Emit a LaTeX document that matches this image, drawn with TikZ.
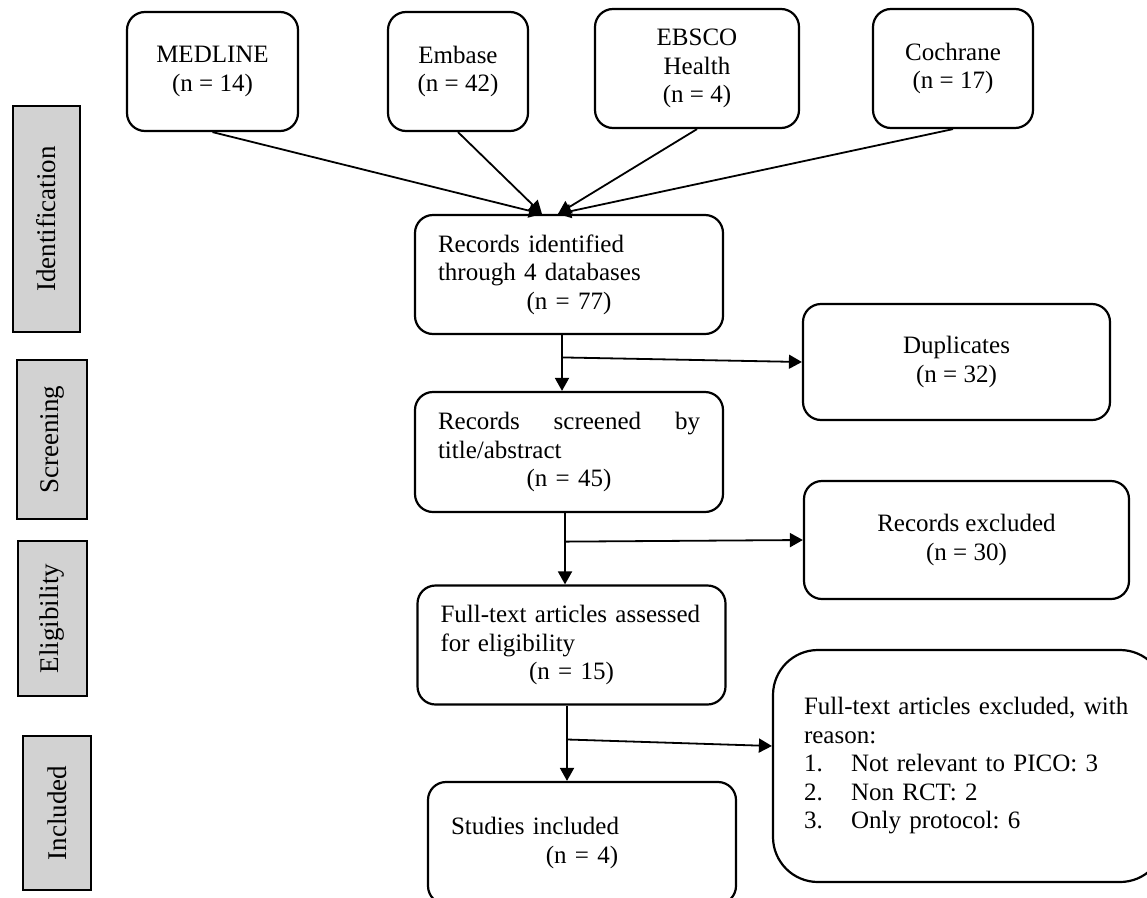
\documentclass[tikz,border=0pt]{standalone}
\usepackage{fontspec}
\setmainfont{Liberation Serif}
\usetikzlibrary{arrows.meta,calc,positioning}

\tikzset{
  dbbox/.style={draw, line width=2.2pt, rounded corners=18pt, align=center, inner sep=0pt, minimum height=119pt},
  stagebox/.style={draw, line width=2.2pt, rounded corners=18pt, align=left, inner xsep=23pt, inner ysep=0pt, text width=262pt},
  sidebox/.style={draw, line width=2.2pt, fill=gray!35, inner sep=0pt, rotate=90, font=\fontsize{27}{30}\selectfont},
  flow/.style={line width=1.8pt, -{Triangle[length=13pt,width=14pt]}},
}
\newcommand{\midline}[1]{\hspace*{\fill}#1\hspace*{\fill}\null}
\frenchspacing

\begin{document}
\begin{tikzpicture}[x=1pt, y=-1pt, font=\fontsize{25}{28.5}\selectfont]
  \useasboundingbox (0,0) rectangle (1147,897);

  %stages
  \foreach \name/\cx/\cy/\w/\h/\txt in {sid/46.5/219/226/67/Identification, sscr/52/439.5/159/70/Screening, selig/52.5/618.5/155/69/Eligibility, sincl/57/813/154/68/Included}{
    \node[sidebox, minimum width=\w, minimum height=\h] (\name) at (\cx,\cy) {\txt};
  }

  %databases
  \foreach \name/\cx/\cy/\w/\txt in {medline/212.5/71.5/171/{MEDLINE\\(n = 14)}, embase/458/71.5/140/{Embase\\(n = 42)}, ebsco/697/68.5/204/{EBSCO\\Health\\(n = 4)}, cochrane/953/68.5/160/{Cochrane\\(n = 17)}}{
    \node[dbbox, minimum width=\w] (\name) at (\cx,\cy) {\txt};
  }

  %main column
  \node[stagebox, minimum height=119pt] (ident) at (569,274.5) {Records identified\\through 4 databases\\\midline{(n = 77)}};
  \node[stagebox, minimum height=120pt] (screen) at (569,452) {Records\hfill screened\hfill by\\title/abstract\\\midline{(n = 45)}};
  \node[stagebox, minimum height=119pt] (full) at (571.5,645) {Full-text articles assessed\\for eligibility\\\midline{(n = 15)}};
  \node[stagebox, minimum height=122pt] (study) at (582,843) {Studies included\\\midline{(n = 4)}};

  %excluded
  \node[dbbox, minimum width=307pt, minimum height=116pt] (dup) at (956.5,362) {Duplicates\\(n = 32)};
  \node[dbbox, minimum width=325pt, minimum height=118pt] (recex) at (966.5,540) {Records excluded\\(n = 30)};
  \node[draw, line width=2.2pt, rounded corners=45pt, align=left, inner xsep=31pt, inner ysep=0pt, text width=330pt, minimum height=232pt] (ftex) at (969,766)
    {Full-text articles excluded, with\\reason:\\\makebox[47pt][l]{1.}Not relevant to PICO: 3\\\makebox[47pt][l]{2.}Non RCT: 2\\\makebox[47pt][l]{3.}Only protocol: 6};

  %arrows
  \coordinate (tipA) at ($(ident.north)+(-27,0)$);
  \coordinate (tipB) at ($(ident.north)+(-11,0)$);
  \draw[flow] (medline.south) -- (tipA);
  \draw[flow] (embase.south) -- (tipA);
  \draw[flow] (ebsco.south) -- (tipB);
  \draw[flow] (cochrane.south) -- (tipB);

  \coordinate (v1) at ($(ident.south)+(-7,0)$);
  \coordinate (v1e) at (v1 |- screen.north);
  \draw[flow] (v1) -- (v1e);
  \draw[flow] ($(v1)!0.4!(v1e)$) -- (dup.west);

  \coordinate (v2) at ($(screen.south)+(-4,0)$);
  \coordinate (v2e) at (v2 |- full.north);
  \draw[flow] (v2) -- (v2e);
  \draw[flow] ($(v2)!0.4!(v2e)$) -- (recex.west);

  \coordinate (v3) at ($(full.south)+(-4.5,0)$);
  \coordinate (v3e) at (v3 |- study.north);
  \coordinate (ftin) at ($(ftex.west)+(0,-20)$);
  \draw[flow] (v3) -- (v3e);
  \draw[flow] ($(v3)!0.45!(v3e)$) -- (ftin);
\end{tikzpicture}
\end{document}
